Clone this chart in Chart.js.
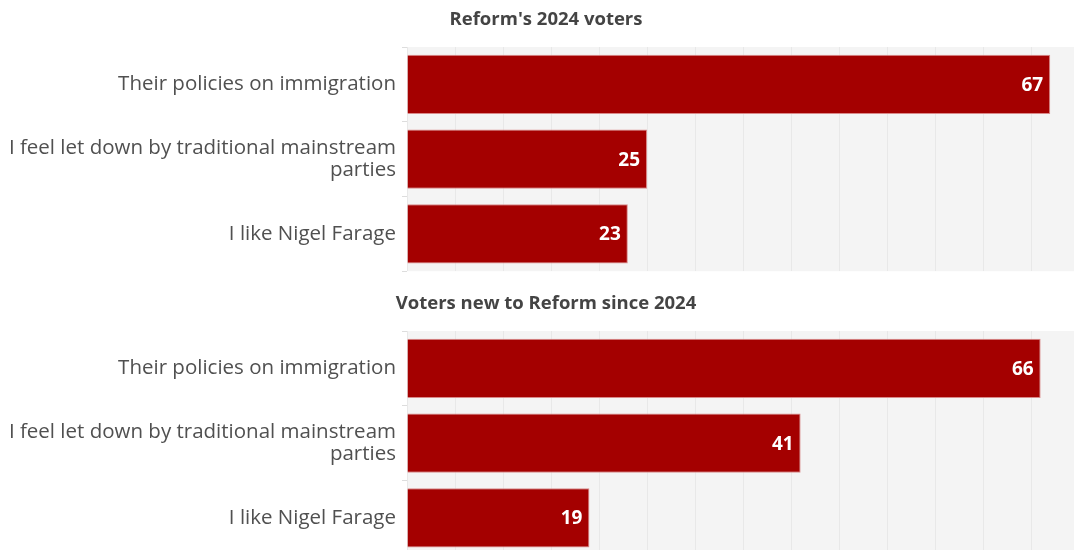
<!DOCTYPE html>
<html><head><meta charset="utf-8">
<script src="https://cdn.jsdelivr.net/npm/chart.js@4"></script>
<style>
html,body{margin:0;padding:0;background:#fff;overflow:hidden;width:1074px;height:550px;}
.wrap{position:absolute;left:0;width:1092px;height:288px;}
</style></head><body>
<div class="wrap" style="top:0"><canvas id="c1" width="1092" height="288"></canvas></div>
<div class="wrap" style="top:284px"><canvas id="c2" width="1092" height="288"></canvas></div>
<script>
const categories = [
  "Their policies on immigration",
  ["I feel let down by traditional mainstream", "parties"],
  "I like Nigel Farage"
];
const titleTop = "Reform's 2024 voters";
const titleBottom = "Voters new to Reform since 2024";
const valuesTop = [67, 25, 23];
const valuesBottom = [66, 41, 19];
const axisMax = 71.35;
const tickStep = 5;

const bgPlugin = {
  id: 'bg',
  beforeDraw(chart) {
    const a = chart.chartArea, ctx = chart.ctx;
    ctx.save(); ctx.fillStyle = '#f4f4f4';
    ctx.fillRect(a.left, a.top, a.right - a.left, a.bottom - a.top);
    ctx.restore();
  }
};
const valuePlugin = {
  id: 'vals',
  afterDatasetsDraw(chart) {
    const ctx = chart.ctx;
    const meta = chart.getDatasetMeta(0);
    ctx.save();
    ctx.fillStyle = '#ffffff';
    ctx.font = 'bold 19px "Open Sans"';
    ctx.textAlign = 'right'; ctx.textBaseline = 'middle';
    meta.data.forEach((bar, i) => {
      ctx.fillText(String(chart.data.datasets[0].data[i]), bar.x - 7, bar.y + 1);
    });
    ctx.restore();
  }
};

function make(id, title, values) {
  return new Chart(document.getElementById(id), {
    type: 'bar',
    data: { labels: categories, datasets: [{
      data: values,
      backgroundColor: '#a40000',
      borderColor: '#d98a8a',
      borderWidth: 1,
      categoryPercentage: 1,
      barPercentage: 0.79
    }]},
    options: {
      indexAxis: 'y',
      responsive: false,
      animation: false,
      devicePixelRatio: 1,
      layout: { padding: { left: 0, right: 0, top: 0, bottom: 3 } },
      plugins: {
        legend: { display: false },
        tooltip: { enabled: false },
        title: { display: true, text: title, color: '#444444',
          font: { family: 'Open Sans', size: 18.5, weight: 'bold', lineHeight: 1.2 },
          padding: { top: 9, bottom: 15.8 } }
      },
      scales: {
        x: {
          min: 0, max: axisMax,
          ticks: { display: false, stepSize: tickStep, includeBounds: false },
          grid: { color: '#e8e8e8', drawTicks: false },
          border: { display: false }
        },
        y: {
          afterFit(scale) { scale.width = 407; },
          ticks: { color: '#505050', padding: 6,
            font: { family: 'Open Sans', size: 20.5, lineHeight: 1.05 } },
          grid: { drawOnChartArea: false, color: '#dddddd', tickLength: 5 },
          border: { display: false }
        }
      }
    },
    plugins: [bgPlugin, valuePlugin]
  });
}
make('c1', titleTop, valuesTop);
make('c2', titleBottom, valuesBottom);
</script>
</body></html>
